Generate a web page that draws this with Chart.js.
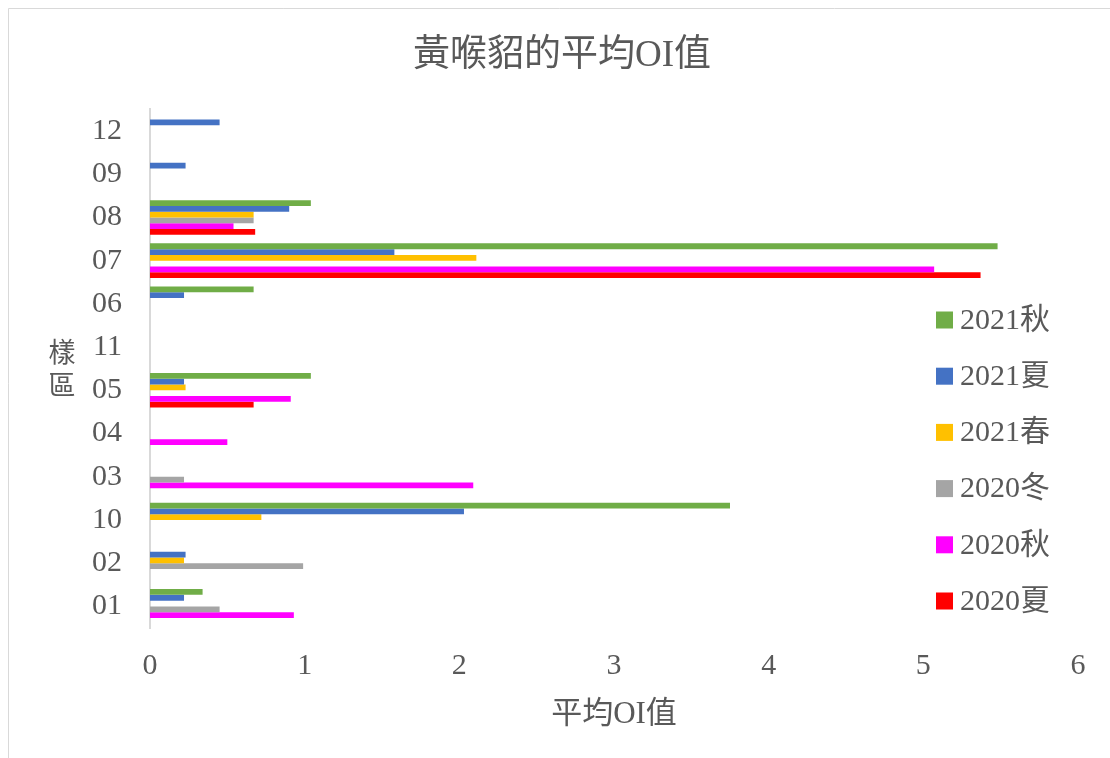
<!DOCTYPE html>
<html>
<head>
<meta charset="utf-8">
<script src="https://cdn.jsdelivr.net/npm/chart.js@4.4.1/dist/chart.umd.min.js"></script>
<style>
  html, body { margin: 0; padding: 0; background: #fff; overflow: hidden; }
  #wrap { position: relative; width: 1110px; height: 758px; }
</style>
</head>
<body>
<div id="wrap"><canvas id="grafica"></canvas></div>
<script>
// categorías de arriba hacia abajo
const sitios = ['12', '09', '08', '07', '06', '11', '05', '04', '03', '10', '02', '01'];

const otono2021     = [null, null, 1.04, 5.48, 0.67, null, 1.04, null, null, 3.75, null, 0.34];
const verano2021    = [0.45, 0.23, 0.90, 1.58, 0.22, null, 0.22, null, null, 2.03, 0.23, 0.22];
const primavera2021 = [null, null, 0.67, 2.11, null, null, 0.23, null, null, 0.72, 0.22, null];
const invierno2020  = [null, null, 0.67, null, null, null, null, null, 0.22, null, 0.99, 0.45];
const otono2020     = [null, null, 0.54, 5.07, null, null, 0.91, 0.50, 2.09, null, null, 0.93];
const verano2020    = [null, null, 0.68, 5.37, null, null, 0.67, null, null, null, null, null];

const ticksX = [0, 1, 2, 3, 4, 5, 6];

const FUENTE = "'Liberation Serif', 'Noto Sans CJK TC', serif";
const GRIS_TEXTO = '#595959';

// marco, leyenda y título vertical del eje Y
const extras = {
    id: 'extras',
    beforeDraw(chart) {
        const ctx = chart.ctx;
        ctx.save();
        ctx.fillStyle = '#fff';
        ctx.fillRect(0, 0, chart.width, chart.height);
        ctx.strokeStyle = '#d9d9d9';
        ctx.lineWidth = 1;
        ctx.beginPath();
        ctx.moveTo(8.5, chart.height);
        ctx.lineTo(8.5, 8.5);
        ctx.lineTo(chart.width, 8.5);
        ctx.stroke();
        ctx.restore();
    },
    afterDraw(chart) {
        const ctx = chart.ctx;
        ctx.save();
        ctx.font = '30px ' + FUENTE;
        ctx.textBaseline = 'middle';
        chart.data.datasets.forEach((ds, i) => {
            const y = 320 + i * 56.2;
            ctx.fillStyle = ds.backgroundColor;
            ctx.fillRect(936, y - 8.5, 17, 17);
            ctx.fillStyle = GRIS_TEXTO;
            ctx.textAlign = 'left';
            ctx.fillText(ds.label, 960, y + 1);
        });
        // título del eje Y en vertical
        ctx.textAlign = 'center';
        ctx.font = "27px 'Noto Sans CJK TC'";
        ctx.fillText('樣', 62, 352);
        ctx.fillText('區', 62, 385);
        ctx.restore();
    }
};

const ctx = document.getElementById('grafica').getContext('2d');

window.miGrafica = new Chart(ctx, {
    type: 'bar',
    data: {
        labels: sitios,
        datasets: [
            { label: '2021秋', data: otono2021, backgroundColor: '#70AD47' },
            { label: '2021夏', data: verano2021, backgroundColor: '#4472C4' },
            { label: '2021春', data: primavera2021, backgroundColor: '#FFC000' },
            { label: '2020冬', data: invierno2020, backgroundColor: '#A5A5A5' },
            { label: '2020秋', data: otono2020, backgroundColor: '#FF00FF' },
            { label: '2020夏', data: verano2020, backgroundColor: '#FF0000' }
        ]
    },
    options: {
        indexAxis: 'y',
        responsive: true,
        maintainAspectRatio: false,
        animation: false,
        categoryPercentage: 0.8,
        barPercentage: 1.0,
        layout: { padding: { left: 46, right: 32, top: 0, bottom: 0 } },
        plugins: {
            legend: { display: false },
            tooltip: { enabled: false },
            title: {
                display: true,
                text: '黃喉貂的平均OI值',
                color: GRIS_TEXTO,
                font: { family: FUENTE, size: 37, weight: 'normal' },
                padding: { top: 34, bottom: 31 }
            }
        },
        scales: {
            x: {
                min: 0,
                max: 6,
                afterBuildTicks: (scale) => { scale.ticks = ticksX.map(v => ({ value: v })); },
                afterFit: (scale) => { scale.height = 130; },
                grid: { display: false, drawTicks: false },
                border: { display: false },
                ticks: {
                    color: GRIS_TEXTO,
                    padding: 20,
                    font: { family: FUENTE, size: 30 }
                },
                title: {
                    display: true,
                    text: '平均OI值',
                    color: GRIS_TEXTO,
                    font: { family: FUENTE, size: 31 },
                    padding: { top: 0, bottom: 25 }
                }
            },
            y: {
                afterFit: (scale) => { scale.width = 104; },
                grid: { display: false, drawTicks: false },
                border: { display: true, color: '#d9d9d9', width: 2 },
                ticks: {
                    color: GRIS_TEXTO,
                    padding: 28,
                    font: { family: FUENTE, size: 30 }
                }
            }
        }
    },
    plugins: [extras]
});
</script>
</body>
</html>
